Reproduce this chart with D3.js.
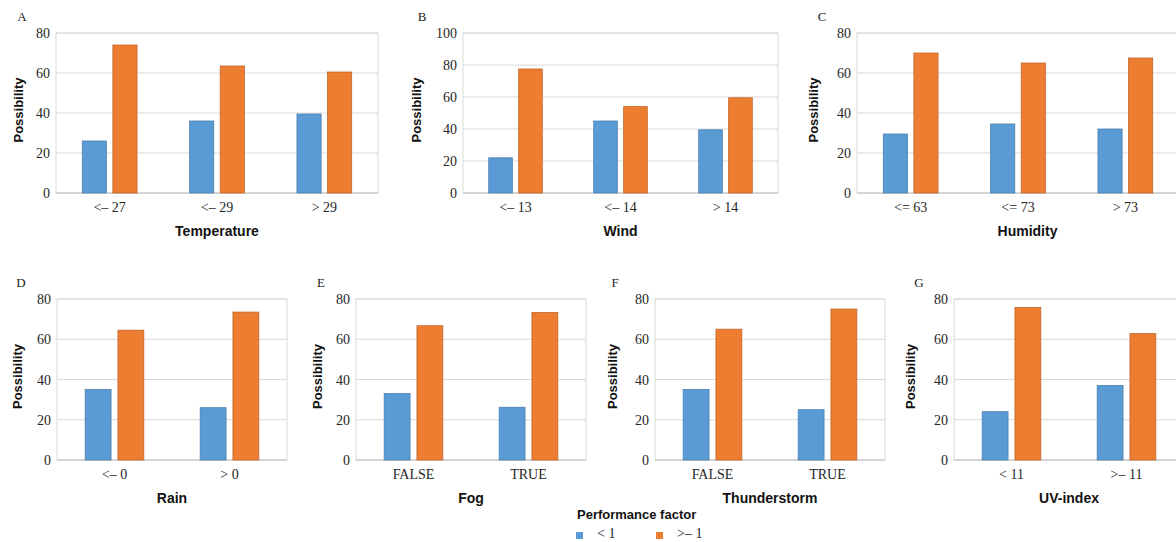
<!DOCTYPE html>
<html>
<head>
<meta charset="utf-8">
<script src="https://cdn.jsdelivr.net/npm/d3@7"></script>
<style>
    body { margin: 0; background: #fff; }
    .tick-label { font-family: "Liberation Serif", serif; font-size: 14px; fill: #262626; }
    .panel-letter { font-family: "Liberation Serif", serif; font-size: 13px; fill: #222; }
    .axis-title { font-family: "Liberation Sans", Arial, sans-serif; font-weight: bold; fill: #111; }
</style>
</head>
<body>
<div id="chart"></div>
<script>
// values
const seriesNames = ["< 1", ">– 1"];
const ticks80 = [0, 20, 40, 60, 80];
const ticks100 = [0, 20, 40, 60, 80, 100];

const tempCats = ["<– 27", "<– 29", "> 29"];
const tempLow = [26, 36, 39.5];
const tempHigh = [74, 63.5, 60.5];

const windCats = ["<– 13", "<– 14", "> 14"];
const windLow = [22, 45, 39.5];
const windHigh = [77.5, 54, 59.5];

const humCats = ["<= 63", "<= 73", "> 73"];
const humLow = [29.5, 34.5, 32];
const humHigh = [70, 65, 67.5];

const rainCats = ["<– 0", "> 0"];
const rainLow = [35, 26];
const rainHigh = [64.5, 73.5];

const fogCats = ["FALSE", "TRUE"];
const fogLow = [33, 26.2];
const fogHigh = [66.7, 73.3];

const stormCats = ["FALSE", "TRUE"];
const stormLow = [35, 25];
const stormHigh = [65, 75];

const uvCats = ["< 11", ">– 11"];
const uvLow = [24, 37];
const uvHigh = [75.8, 62.8];

const colors = ["#5b9bd5", "#ed7d31"];
const strokes = ["#4a7fb0", "#c0652a"];

const svg = d3.select("#chart").append("svg")
    .attr("width", 1176)
    .attr("height", 542);

class BarPanel {
    constructor(letter, title, cats, low, high, ticks, box) {
        this.letter = letter;
        this.title = title;
        this.cats = cats;
        this.series = [low, high];
        this.ticks = ticks;
        this.box = box; // left, right, top, bottom, ylabel x, letter x
    }

    initVis() {
        let vis = this;
        let b = vis.box;

        vis.g = svg.append("g");

        vis.x = d3.scaleBand()
            .domain(vis.cats)
            .range([b.left, b.right]);

        vis.y = d3.scaleLinear()
            .domain([0, d3.max(vis.ticks)])
            .range([b.bottom, b.top]);

        // gridlines
        vis.g.selectAll(".grid")
            .data(vis.ticks.slice(1))
            .enter().append("line")
            .attr("x1", b.left).attr("x2", b.right)
            .attr("y1", d => vis.y(d)).attr("y2", d => vis.y(d))
            .attr("stroke", "#d9d9d9");

        // frame
        vis.g.append("rect")
            .attr("x", b.left).attr("y", b.top)
            .attr("width", b.right - b.left).attr("height", b.bottom - b.top)
            .attr("fill", "none").attr("stroke", "#d9d9d9");

        vis.g.append("line")
            .attr("x1", b.left).attr("x2", b.right)
            .attr("y1", b.bottom).attr("y2", b.bottom)
            .attr("stroke", "#bfbfbf");

        // y tick labels
        vis.g.selectAll(".ytick")
            .data(vis.ticks)
            .enter().append("text")
            .attr("class", "tick-label")
            .attr("x", b.left - 6)
            .attr("y", d => vis.y(d) + 5)
            .attr("text-anchor", "end")
            .text(d => d);

        // bars
        let bw = vis.x.bandwidth() * 0.225;
        let gap = vis.x.bandwidth() * 0.06;
        vis.series.forEach((vals, i) => {
            vis.g.selectAll(".bar" + i)
                .data(vis.cats)
                .enter().append("rect")
                .attr("x", (d, j) => {
                    let c = vis.x(d) + vis.x.bandwidth() / 2;
                    return i === 0 ? c - gap / 2 - bw : c + gap / 2;
                })
                .attr("y", (d, j) => vis.y(vals[j]))
                .attr("width", bw)
                .attr("height", (d, j) => vis.y(0) - vis.y(vals[j]))
                .attr("fill", colors[i])
                .attr("stroke", strokes[i])
                .attr("stroke-width", 0.8);
        });

        // category labels
        vis.g.selectAll(".xtick")
            .data(vis.cats)
            .enter().append("text")
            .attr("class", "tick-label")
            .attr("x", d => vis.x(d) + vis.x.bandwidth() / 2)
            .attr("y", b.bottom + 19)
            .attr("text-anchor", "middle")
            .text(d => d);

        vis.g.append("text")
            .attr("class", "axis-title")
            .attr("font-size", 14)
            .attr("x", (b.left + Math.min(b.right, 1176)) / 2 + (b.titleShift || 0))
            .attr("y", b.bottom + 43)
            .attr("text-anchor", "middle")
            .text(vis.title);

        vis.g.append("text")
            .attr("class", "axis-title")
            .attr("font-size", 13)
            .attr("transform", `translate(${b.ylab + 5},${(b.top + b.bottom) / 2 - 3}) rotate(-90)`)
            .attr("text-anchor", "middle")
            .text("Possibility");

        vis.g.append("text")
            .attr("class", "panel-letter")
            .attr("x", b.letterX)
            .attr("y", b.top - 12)
            .attr("text-anchor", "middle")
            .text(vis.letter);
    }
}

let panels = [
    new BarPanel("A", "Temperature", tempCats, tempLow, tempHigh, ticks80,
        {left: 56, right: 378, top: 33, bottom: 193, ylab: 18, letterX: 22}),
    new BarPanel("B", "Wind", windCats, windLow, windHigh, ticks100,
        {left: 463, right: 778, top: 33, bottom: 193, ylab: 416, letterX: 422}),
    new BarPanel("C", "Humidity", humCats, humLow, humHigh, ticks80,
        {left: 857, right: 1179, top: 33, bottom: 193, ylab: 813, letterX: 822, titleShift: 11}),
    new BarPanel("D", "Rain", rainCats, rainLow, rainHigh, ticks80,
        {left: 57, right: 287, top: 299, bottom: 460, ylab: 17, letterX: 21}),
    new BarPanel("E", "Fog", fogCats, fogLow, fogHigh, ticks80,
        {left: 356, right: 586, top: 299, bottom: 460, ylab: 317, letterX: 321}),
    new BarPanel("F", "Thunderstorm", stormCats, stormLow, stormHigh, ticks80,
        {left: 655, right: 885, top: 299, bottom: 460, ylab: 612, letterX: 615}),
    new BarPanel("G", "UV-index", uvCats, uvLow, uvHigh, ticks80,
        {left: 954, right: 1184, top: 299, bottom: 460, ylab: 910, letterX: 919, titleShift: 4})
];
panels.forEach(p => p.initVis());

// legend
let legend = svg.append("g");
legend.append("text")
    .attr("class", "axis-title")
    .attr("font-size", 13)
    .attr("x", 577)
    .attr("y", 519)
    .text("Performance factor");

let legendX = [576, 656];
seriesNames.forEach((name, i) => {
    legend.append("rect")
        .attr("x", legendX[i]).attr("y", 532)
        .attr("width", 7).attr("height", 7)
        .attr("fill", colors[i]);
    legend.append("text")
        .attr("class", "tick-label")
        .attr("font-size", 13)
        .attr("x", legendX[i] + 21)
        .attr("y", 538)
        .text(name);
});
</script>
</body>
</html>
